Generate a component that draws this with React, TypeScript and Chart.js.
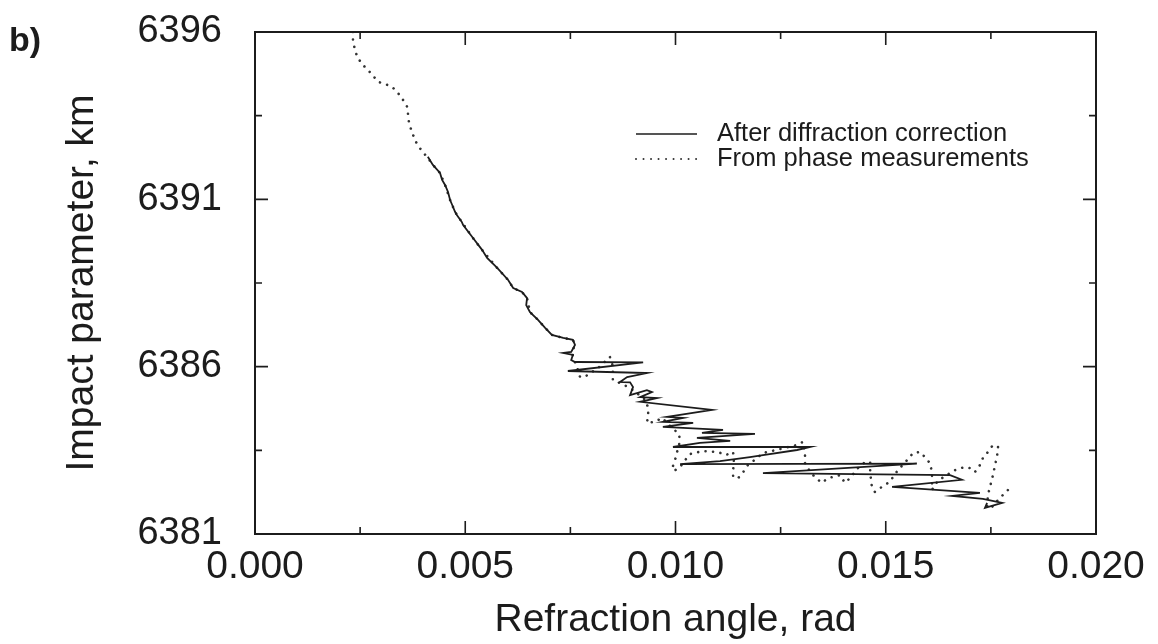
import React, { useEffect, useRef } from "react";
import { Chart, registerables } from "chart.js";

Chart.register(...registerables);

const FONT = "'Liberation Sans', Arial, Helvetica, sans-serif";
const INK = "#1c1c1c";

// ---- text ----
const panelLabel = "b)";
const xTitle = "Refraction angle, rad";
const yTitle = "Impact parameter, km";
const legendLabels = ["After diffraction correction", "From phase measurements"];

// ---- axes ----
const xMin = 0;
const xMax = 0.02;
const xStep = 0.0025; // minor tick spacing
const xLabelStep = 0.005;
const yMin = 6381;
const yMax = 6396;
const yStep = 2.5;
const yLabelStep = 5;

// ---- series 1: After diffraction correction (solid) ----
const solidAngle = [
  0.00411, 0.00423, 0.0044, 0.00445, 0.00452, 0.00459, 0.00464, 0.00469, 0.00476, 0.0048,
  0.00492, 0.00495, 0.00518, 0.0054, 0.00552, 0.00576, 0.00602, 0.00614, 0.00635, 0.00647,
  0.00645, 0.00654, 0.00673, 0.0069, 0.00706, 0.00733, 0.00756, 0.00761, 0.00752, 0.00733,
  0.00756, 0.00752, 0.00761, 0.00923, 0.00744, 0.00932, 0.00885, 0.00868, 0.00892, 0.00899,
  0.00892, 0.00932, 0.00944, 0.00916, 0.00956, 0.00916, 0.01087, 0.0098, 0.01018, 0.0097,
  0.01042, 0.0097, 0.01113, 0.01063, 0.01189, 0.01051, 0.0113, 0.01058, 0.00994, 0.0132,
  0.01289, 0.01208, 0.01177, 0.01106, 0.01011, 0.01574, 0.01208, 0.01653, 0.01681, 0.01515,
  0.01724, 0.01658, 0.01731, 0.01777, 0.01736, 0.01741,
];
const solidImpact = [
  6392.27, 6392.03, 6391.79, 6391.58, 6391.43, 6391.22, 6390.98, 6390.83, 6390.62, 6390.53,
  6390.32, 6390.23, 6389.85, 6389.49, 6389.25, 6388.95, 6388.59, 6388.35, 6388.23, 6388.05,
  6387.84, 6387.63, 6387.4, 6387.16, 6386.95, 6386.86, 6386.8, 6386.65, 6386.44, 6386.41,
  6386.35, 6386.2, 6386.14, 6386.13, 6385.87, 6385.81, 6385.69, 6385.54, 6385.53, 6385.39,
  6385.15, 6385.3, 6385.24, 6385.09, 6385.06, 6384.95, 6384.71, 6384.5, 6384.47, 6384.35,
  6384.32, 6384.2, 6384.11, 6384.02, 6383.99, 6383.87, 6383.78, 6383.72, 6383.6, 6383.6,
  6383.51, 6383.36, 6383.3, 6383.18, 6383.09, 6383.1, 6382.82, 6382.76, 6382.62, 6382.41,
  6382.23, 6382.14, 6382.05, 6381.93, 6381.78, 6381.93,
];

// ---- series 2: From phase measurements (dotted) ----
const phaseAngle = [
  0.00233, 0.00233, 0.00243, 0.00257, 0.00269, 0.00281, 0.00293, 0.00309, 0.00326, 0.0034,
  0.00352, 0.00362, 0.00366, 0.00373, 0.00383, 0.00397, 0.00411, 0.00423, 0.0044, 0.00452,
  0.00464, 0.00476, 0.00492, 0.00518, 0.0054, 0.00576, 0.00602, 0.00614, 0.00635, 0.00647,
  0.00654, 0.00673, 0.0069, 0.00706, 0.00733, 0.00756, 0.00761, 0.00754, 0.00756, 0.00761,
  0.00768, 0.00773, 0.00787, 0.00816, 0.00844, 0.00851, 0.00851, 0.00851, 0.00873, 0.00892,
  0.00908, 0.00928, 0.00935, 0.00935, 0.00932, 0.00951, 0.00968, 0.00987, 0.01008, 0.01011,
  0.01006, 0.01001, 0.00994, 0.00996, 0.01011, 0.01023, 0.01035, 0.01065, 0.01101, 0.0112,
  0.01137, 0.01139, 0.01137, 0.01137, 0.01149, 0.01161, 0.01172, 0.01191, 0.01208, 0.01249,
  0.01289, 0.01303, 0.01308, 0.01308, 0.01322, 0.01339, 0.01348, 0.01363, 0.01391, 0.01403,
  0.01415, 0.01434, 0.01451, 0.01463, 0.01463, 0.01467, 0.01474, 0.01491, 0.0151, 0.01517,
  0.01529, 0.01551, 0.01565, 0.01582, 0.01593, 0.01605, 0.0161, 0.0161, 0.0161, 0.01624,
  0.01653, 0.01669, 0.01689, 0.017, 0.01712, 0.01724, 0.01731, 0.01743, 0.01755, 0.01767,
  0.01765, 0.0176, 0.01755, 0.01748, 0.01743, 0.01741, 0.01753, 0.01767, 0.01779, 0.01791,
  0.01803,
];
const phaseImpact = [
  6396.0, 6395.7, 6395.25, 6395.01, 6394.86, 6394.69, 6394.51, 6394.45, 6394.36, 6394.18,
  6393.97, 6393.76, 6393.31, 6393.01, 6392.71, 6392.44, 6392.24, 6392.03, 6391.79, 6391.43,
  6390.98, 6390.62, 6390.32, 6389.85, 6389.49, 6388.95, 6388.59, 6388.35, 6388.23, 6388.05,
  6387.63, 6387.4, 6387.16, 6386.95, 6386.86, 6386.8, 6386.65, 6386.44, 6386.32, 6386.14,
  6385.9, 6385.69, 6385.72, 6385.96, 6386.29, 6386.02, 6385.84, 6385.6, 6385.48, 6385.36,
  6385.21, 6385.01, 6384.77, 6384.53, 6384.32, 6384.35, 6384.47, 6384.23, 6383.99, 6383.78,
  6383.57, 6383.3, 6383.03, 6382.88, 6383.0, 6383.21, 6383.39, 6383.48, 6383.45, 6383.36,
  6383.45, 6383.15, 6382.91, 6382.7, 6382.67, 6382.85, 6383.06, 6383.24, 6383.42, 6383.54,
  6383.66, 6383.75, 6383.42, 6383.12, 6382.82, 6382.62, 6382.53, 6382.67, 6382.76, 6382.53,
  6382.67, 6382.97, 6383.15, 6383.15, 6382.82, 6382.41, 6382.26, 6382.41, 6382.56, 6382.7,
  6382.91, 6383.21, 6383.42, 6383.45, 6383.3, 6383.12, 6382.85, 6382.62, 6382.32, 6382.59,
  6382.82, 6382.94, 6383.0, 6382.97, 6382.85, 6383.06, 6383.27, 6383.45, 6383.66, 6383.6,
  6383.36, 6383.06, 6382.76, 6382.41, 6382.17, 6381.78, 6381.81, 6382.02, 6382.17, 6382.32,
  6382.17,
];

const toPoints = (xs: number[], ys: number[]) => xs.map((x, i) => ({ x, y: ys[i] }));

const isMultiple = (v: number, base: number, step: number) => {
  const r = (v - base) / step;
  return Math.abs(r - Math.round(r)) < 1e-6;
};

const frameLegendPlugin = {
  id: "frameLegend",
  afterDraw(chart: any) {
    const { ctx, chartArea: a, scales } = chart;
    const xs = scales.x;
    const ys = scales.y;
    ctx.save();
    ctx.strokeStyle = INK;
    // frame
    ctx.lineWidth = 2;
    ctx.strokeRect(a.left, a.top, a.right - a.left, a.bottom - a.top);
    // inward ticks on all four sides
    ctx.lineWidth = 1.6;
    ctx.beginPath();
    xs.ticks.forEach((t: any) => {
      const p = xs.getPixelForValue(t.value);
      const len = isMultiple(t.value, xMin, xLabelStep) ? 13 : 7;
      ctx.moveTo(p, a.bottom);
      ctx.lineTo(p, a.bottom - len);
      ctx.moveTo(p, a.top);
      ctx.lineTo(p, a.top + len);
    });
    ys.ticks.forEach((t: any) => {
      const p = ys.getPixelForValue(t.value);
      const len = isMultiple(t.value, yMin, yLabelStep) ? 13 : 7;
      ctx.moveTo(a.left, p);
      ctx.lineTo(a.left + len, p);
      ctx.moveTo(a.right, p);
      ctx.lineTo(a.right - len, p);
    });
    ctx.stroke();

    // legend inside the plot
    const ds = chart.data.datasets;
    const lx0 = a.left + 381;
    const lx1 = lx0 + 61;
    const tx = lx1 + 20;
    const rows = [a.top + 102, a.top + 127];
    ctx.font = `25.5px ${FONT}`;
    ctx.fillStyle = INK;
    ctx.textBaseline = "middle";
    ctx.textAlign = "left";
    rows.forEach((ry, i) => {
      const d = ds[i];
      ctx.save();
      ctx.strokeStyle = d.borderColor;
      ctx.lineWidth = i === 0 ? 1.4 : 2;
      ctx.lineCap = d.borderCapStyle || "butt";
      ctx.setLineDash(d.borderDash || []);
      ctx.beginPath();
      ctx.moveTo(lx0, ry);
      ctx.lineTo(lx1, ry);
      ctx.stroke();
      ctx.restore();
      ctx.fillText(legendLabels[i], tx, ry);
    });

    // panel label
    ctx.font = `bold 34px ${FONT}`;
    ctx.textBaseline = "alphabetic";
    ctx.fillText(panelLabel, 9, 51);
    ctx.restore();
  },
};

export default function App() {
  const ref = useRef<HTMLCanvasElement | null>(null);

  useEffect(() => {
    if (!ref.current) return;
    const chart = new Chart(ref.current, {
      type: "scatter",
      data: {
        datasets: [
          {
            label: legendLabels[0],
            data: toPoints(solidAngle, solidImpact),
            showLine: true,
            borderColor: INK,
            borderWidth: 1.8,
            pointRadius: 0,
            tension: 0,
          },
          {
            label: legendLabels[1],
            data: toPoints(phaseAngle, phaseImpact),
            showLine: true,
            borderColor: "#333333",
            borderWidth: 2.6,
            borderDash: [0.01, 7.5],
            borderCapStyle: "round",
            pointRadius: 0,
            tension: 0,
          },
        ],
      } as any,
      options: {
        responsive: false,
        animation: false,
        events: [],
        layout: { padding: { top: 32, right: 62, left: 0, bottom: 0 } },
        plugins: {
          legend: { display: false },
          tooltip: { enabled: false },
        },
        scales: {
          x: {
            type: "linear",
            position: "bottom",
            min: xMin,
            max: xMax,
            afterFit: (s: any) => {
              s.height = 110;
              s.paddingLeft = 0;
              s.paddingRight = 0;
            },
            grid: { display: false, drawTicks: false },
            border: { display: false },
            ticks: {
              stepSize: xStep,
              autoSkip: false,
              maxRotation: 0,
              padding: 10,
              color: INK,
              font: { family: FONT, size: 39 },
              callback: (v: any) => (isMultiple(Number(v), xMin, xLabelStep) ? Number(v).toFixed(3) : ""),
            },
            title: {
              display: true,
              text: xTitle,
              color: INK,
              font: { family: FONT, size: 39 },
              padding: { top: 0, bottom: 0 },
            },
          },
          y: {
            type: "linear",
            min: yMin,
            max: yMax,
            afterFit: (s: any) => {
              s.width = 255;
              s.paddingTop = 0;
              s.paddingBottom = 0;
            },
            grid: { display: false, drawTicks: false },
            border: { display: false },
            ticks: {
              stepSize: yStep,
              autoSkip: false,
              padding: 33,
              color: INK,
              font: { family: FONT, size: 38 },
              callback: (v: any) => (isMultiple(Number(v), yMin, yLabelStep) ? String(Math.round(Number(v))) : ""),
            },
            title: {
              display: true,
              text: yTitle,
              color: INK,
              font: { family: FONT, size: 39 },
              padding: { top: 59, bottom: 0 },
            },
          },
        },
      } as any,
      plugins: [frameLegendPlugin],
    });
    return () => chart.destroy();
  }, []);

  return (
    <div style={{ position: "absolute", left: 0, top: 0, width: 1158, height: 644, background: "#ffffff" }}>
      <canvas ref={ref} width={1158} height={644} />
    </div>
  );
}
